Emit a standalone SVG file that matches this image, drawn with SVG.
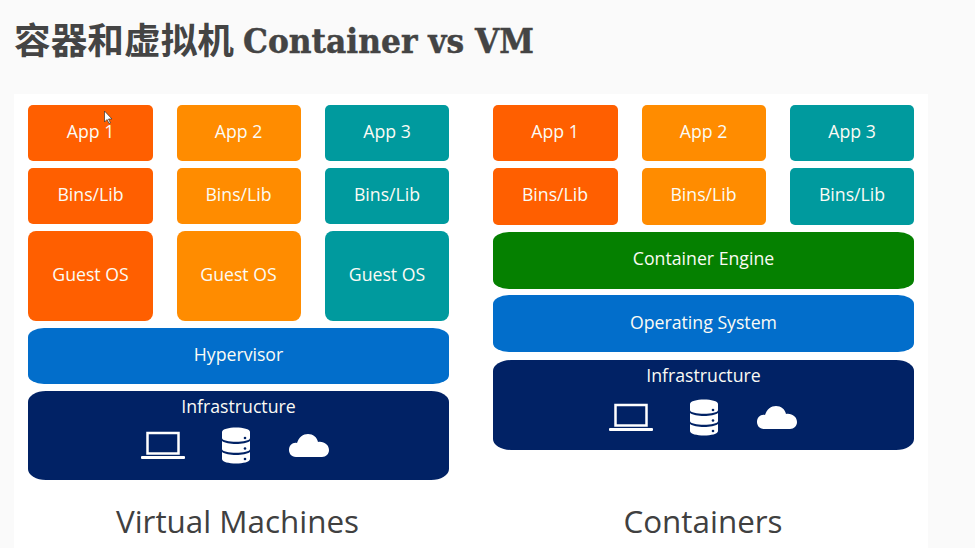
<svg xmlns="http://www.w3.org/2000/svg" width="975" height="548" viewBox="0 0 975 548">
<style>
.l{font-family:"Open Sans","Noto Sans",sans-serif;font-size:17.700px;fill:#fbfbf5;text-anchor:middle}
.c{font-family:"Open Sans","Noto Sans",sans-serif;font-size:31.400px;fill:#404040;text-anchor:middle}
.red{fill:#ff5f00}.or{fill:#ff8c00}.te{fill:#009a9e}.bl{fill:#026ecb}.gr{fill:#058000}.na{fill:#012265}
</style>
<defs>
<g id="laptop">
<rect x="6.500" y="2" width="31" height="20.500" fill="none" stroke="#fff" stroke-width="2.500"/>
<rect x="0" y="25" width="44" height="3" rx="1" fill="#fff"/>
</g>
<g id="db" fill="#fff">
<path d="M0 5C0 -1 28 -1 28 5V11C28 16 0 16 0 11Z"/>
<path d="M0 14C5 18 23 18 28 14V22C28 27 0 27 0 22Z"/>
<path d="M0 25C5 29 23 29 28 25V32C28 38 0 38 0 32Z"/>
<circle cx="23" cy="11" r="1.300" fill="#012265"/><circle cx="23" cy="21.500" r="1.300" fill="#012265"/><circle cx="23" cy="32" r="1.300" fill="#012265"/>
</g>
<path id="cloud" fill="#fff" d="M7 23C2 23 0 19 0 16C0 11 4 8 8 9C10 3 14 0 19 0C24 0 28 3 29 8C35 7 40 11 40 16C40 20 37 23 33 23Z"/>
</defs>
<rect width="975" height="548" fill="#fafafa"/>
<rect x="14" y="94" width="914" height="454" fill="#fff"/>
<text x="14" y="54" font-family="'Noto Sans CJK SC',sans-serif" font-weight="700" font-size="36" fill="#444" textLength="220" lengthAdjust="spacingAndGlyphs">容器和虚拟机</text>
<text x="243" y="53" font-family="'DejaVu Serif',serif" font-weight="700" font-size="34" fill="#444" stroke="#444" stroke-width="0.500" textLength="291" lengthAdjust="spacingAndGlyphs">Container vs VM</text>
<g id="vm">
<g id="vm-app1"><rect class="red" x="28" y="105" width="125" height="56" rx="5"/><text class="l" x="90.500" y="138">App 1</text></g>
<g id="vm-app2"><rect class="or" x="177" y="105" width="124" height="56" rx="5"/><text class="l" x="238.500" y="138">App 2</text></g>
<g id="vm-app3"><rect class="te" x="325" y="105" width="124" height="56" rx="5"/><text class="l" x="387" y="138">App 3</text></g>
<g id="vm-bins1"><rect class="red" x="28" y="168" width="125" height="56" rx="5"/><text class="l" x="90.500" y="201">Bins/Lib</text></g>
<g id="vm-bins2"><rect class="or" x="177" y="168" width="124" height="56" rx="5"/><text class="l" x="238.500" y="201">Bins/Lib</text></g>
<g id="vm-bins3"><rect class="te" x="325" y="168" width="124" height="56" rx="5"/><text class="l" x="387" y="201">Bins/Lib</text></g>
<g id="vm-os1"><rect class="red" x="28" y="231" width="125" height="90" rx="8"/><text class="l" x="90.500" y="281">Guest OS</text></g>
<g id="vm-os2"><rect class="or" x="177" y="231" width="124" height="90" rx="8"/><text class="l" x="238.500" y="281">Guest OS</text></g>
<g id="vm-os3"><rect class="te" x="325" y="231" width="124" height="90" rx="8"/><text class="l" x="387" y="281">Guest OS</text></g>
<g id="vm-hyper"><rect class="bl" x="28" y="328" width="421" height="56" rx="16" ry="9"/><text class="l" x="238.500" y="361">Hypervisor</text></g>
<g id="vm-infra"><rect class="na" x="28" y="391" width="421" height="89" rx="18" ry="11"/><text class="l" x="238.500" y="413">Infrastructure</text>
<use href="#laptop" x="141" y="431"/><use href="#db" x="222" y="427"/><use href="#cloud" x="289" y="434"/></g>
<text class="c" x="237.500" y="533">Virtual Machines</text>
</g>
<g id="ct">
<g id="ct-app1"><rect class="red" x="493" y="105" width="125" height="56" rx="5"/><text class="l" x="555" y="138">App 1</text></g>
<g id="ct-app2"><rect class="or" x="642" y="105" width="124" height="56" rx="5"/><text class="l" x="703.500" y="138">App 2</text></g>
<g id="ct-app3"><rect class="te" x="790" y="105" width="124" height="56" rx="5"/><text class="l" x="852" y="138">App 3</text></g>
<g id="ct-bins1"><rect class="red" x="493" y="168" width="125" height="57" rx="5"/><text class="l" x="555" y="201">Bins/Lib</text></g>
<g id="ct-bins2"><rect class="or" x="642" y="168" width="124" height="57" rx="5"/><text class="l" x="703.500" y="201">Bins/Lib</text></g>
<g id="ct-bins3"><rect class="te" x="790" y="168" width="124" height="57" rx="5"/><text class="l" x="852" y="201">Bins/Lib</text></g>
<g id="ct-engine"><rect class="gr" x="493" y="232" width="421" height="57" rx="16" ry="9"/><text class="l" x="703.500" y="265">Container Engine</text></g>
<g id="ct-os"><rect class="bl" x="493" y="295" width="421" height="57" rx="16" ry="9"/><text class="l" x="703.500" y="329">Operating System</text></g>
<g id="ct-infra"><rect class="na" x="493" y="360" width="421" height="90" rx="18" ry="11"/><text class="l" x="703.500" y="382">Infrastructure</text>
<use href="#laptop" x="609" y="403"/><use href="#db" x="690" y="399"/><use href="#cloud" x="757" y="406"/></g>
<text class="c" x="703" y="533">Containers</text>
</g>
<g id="connectors"/>
<path d="M104.500 111V122L107 119.500L109 123.500L110.500 123L108.500 119H112Z" fill="#fff" stroke="#333" stroke-width="0.700"/>
</svg>
